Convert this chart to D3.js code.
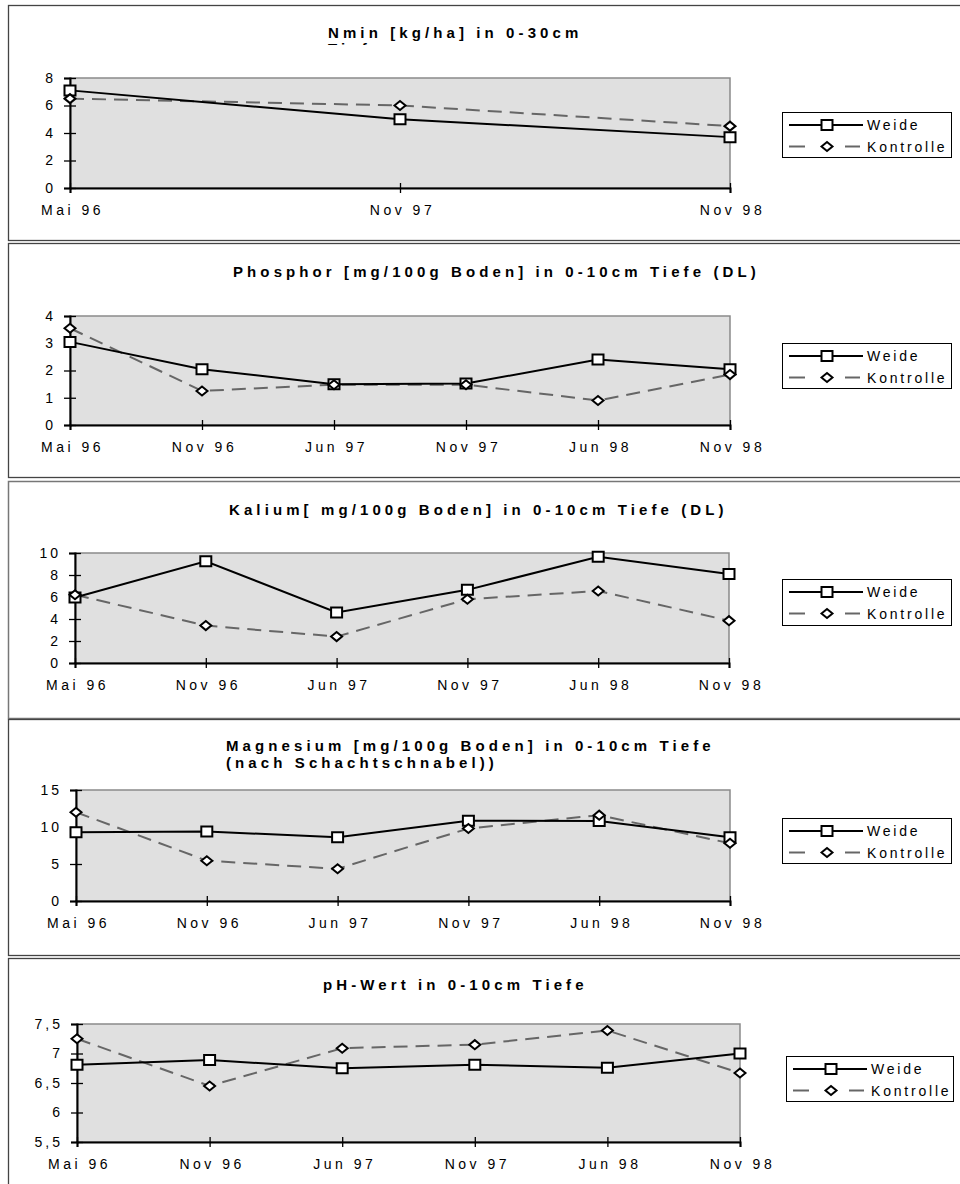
<!DOCTYPE html>
<html>
<head>
<meta charset="utf-8">
<script src="https://cdn.jsdelivr.net/npm/d3@7"></script>
<style>
  html, body { margin: 0; padding: 0; background: #fff; }
  svg { display: block; font-family: "Liberation Sans", Arial, sans-serif; }
</style>
</head>
<body>
<svg id="chart" width="960" height="1184"></svg>
<script>
// ---------- DATA ----------
const cats3 = ["Mai 96", "Nov 97", "Nov 98"];
const cats6 = ["Mai 96", "Nov 96", "Jun 97", "Nov 97", "Jun 98", "Nov 98"];
const seriesNames = ["Weide", "Kontrolle"];

const nminWeide = [7.1, 5.0, 3.7];
const nminKontrolle = [6.5, 6.0, 4.5];

const phosphorWeide = [3.05, 2.05, 1.5, 1.52, 2.4, 2.05];
const phosphorKontrolle = [3.55, 1.25, 1.48, 1.48, 0.9, 1.85];

const kaliumWeide = [5.95, 9.25, 4.6, 6.65, 9.65, 8.1];
const kaliumKontrolle = [6.2, 3.4, 2.4, 5.8, 6.55, 3.85];

const magnesiumWeide = [9.3, 9.4, 8.6, 10.85, 10.8, 8.6];
const magnesiumKontrolle = [12.0, 5.45, 4.35, 9.8, 11.6, 7.8];

const phWeide = [6.81, 6.89, 6.75, 6.81, 6.76, 7.0];
const phKontrolle = [7.25, 6.45, 7.09, 7.15, 7.39, 6.67];

const nminTicks = [0, 2, 4, 6, 8];
const phosphorTicks = [0, 1, 2, 3, 4];
const kaliumTicks = [0, 2, 4, 6, 8, 10];
const magnesiumTicks = [0, 5, 10, 15];
const phTicks = [5.5, 6, 6.5, 7, 7.5];

const titleNmin = ["Nmin [kg/ha] in 0-30cm", "Tiefe"];
const titlePhosphor = ["Phosphor [mg/100g Boden] in 0-10cm Tiefe (DL)"];
const titleKalium = ["Kalium[ mg/100g Boden] in 0-10cm Tiefe (DL)"];
const titleMagnesium = ["Magnesium [mg/100g Boden] in 0-10cm Tiefe", "(nach Schachtschnabel))"];
const titlePh = ["pH-Wert in 0-10cm Tiefe"];

// ---------- LAYOUT ----------
const commaFmt = d3.formatLocale({decimal: ",", thousands: ".", grouping: [3], currency: ["", ""]});
const fmtPh = v => commaFmt.format("")(v);

const panels = [
  {frame: [8, 5, 962, 235], plot: [70, 78, 730, 188], title: titleNmin, titleX: 328, titleY: 37.5, lineGap: 16, clipSecond: 45,
   cats: cats3, w: nminWeide, k: nminKontrolle, ticks: nminTicks, fmt: d => d, legend: [782, 112, 169, 45]},
  {frame: [8, 243, 962, 234], plot: [70, 316, 730, 425], title: titlePhosphor, titleX: 233, titleY: 277,
   cats: cats6, w: phosphorWeide, k: phosphorKontrolle, ticks: phosphorTicks, fmt: d => d, legend: [782, 343, 169, 45]},
  {frame: [8, 481, 962, 237], plot: [75, 553, 729, 663], title: titleKalium, titleX: 229, titleY: 515,
   cats: cats6, w: kaliumWeide, k: kaliumKontrolle, ticks: kaliumTicks, fmt: d => d, legend: [782, 579, 169, 46]},
  {frame: [8, 719, 962, 236], plot: [76, 790, 730, 901], title: titleMagnesium, titleX: 226, titleY: 750.5, lineGap: 17,
   cats: cats6, w: magnesiumWeide, k: magnesiumKontrolle, ticks: magnesiumTicks, fmt: d => d, legend: [782, 818, 169, 45]},
  {frame: [8, 958, 962, 240], plot: [77, 1024, 740, 1142], title: titlePh, titleX: 323, titleY: 990,
   cats: cats6, w: phWeide, k: phKontrolle, ticks: phTicks, fmt: fmtPh, legend: [786, 1056, 167, 45]}
];

const svg = d3.select("#chart");
svg.append("rect").attr("width", 960).attr("height", 1184).attr("fill", "#fff");
const defs = svg.append("defs");

const squarePath = "M-5.5,-5 L5.5,-5 L5.5,5 L-5.5,5 Z";
const diamondPath = "M-5.5,0 L0,-4.5 L5.5,0 L0,4.5 Z";

function drawMarker(g, x, y, type) {
  g.append("path")
    .attr("d", type === "square" ? squarePath : diamondPath)
    .attr("transform", `translate(${x},${y})`)
    .attr("fill", "#fff")
    .attr("stroke", "#000")
    .attr("stroke-width", 2);
}

panels.forEach((p, i) => {
  const g = svg.append("g");
  // frame
  g.append("rect")
    .attr("x", p.frame[0] + 0.5).attr("y", p.frame[1] + 0.5)
    .attr("width", p.frame[2]).attr("height", p.frame[3])
    .attr("fill", "#fff").attr("stroke", i === 2 ? "#777" : "#444")
    .attr("stroke-width", i === 2 ? 1.5 : 1.3);

  const [x0, y0, x1, y1] = p.plot;
  const x = d3.scalePoint().domain(p.cats).range([x0, x1]);
  const yDom = d3.extent(p.ticks);
  const y = d3.scaleLinear().domain(yDom).range([y1, y0]);

  // plot background
  g.append("rect").attr("x", x0).attr("y", y0).attr("width", x1 - x0).attr("height", y1 - y0)
    .attr("fill", "#e0e0e0").attr("stroke", "#8a8a8a").attr("stroke-width", 1.5);

  // title (one text element, one tspan per line)
  const tx = g.append("text")
    .attr("font-size", 15).attr("font-weight", "bold")
    .attr("letter-spacing", 4.1)
    .attr("fill", "#000");
  p.title.forEach((t, li) => {
    tx.append("tspan")
      .attr("x", p.titleX)
      .attr("y", p.titleY + li * (p.lineGap || 17))
      .text(t);
  });
  if (p.clipSecond) {
    const clipId = "clipT" + i;
    defs.append("clipPath").attr("id", clipId).append("rect")
      .attr("x", 0).attr("y", 0).attr("width", 960).attr("height", p.clipSecond);
    tx.attr("clip-path", `url(#${clipId})`);
  }

  // y axis
  const yAxis = g.append("g").attr("transform", `translate(${x0},0)`)
    .call(d3.axisLeft(y).tickValues(p.ticks).tickFormat(p.fmt).tickSize(6).tickPadding(8));
  yAxis.select(".domain").attr("stroke", "#000").attr("stroke-width", 2);
  yAxis.selectAll(".tick line").attr("x1", 6).attr("stroke", "#000").attr("stroke-width", 1.3);
  yAxis.selectAll(".tick text").attr("font-size", 14).attr("letter-spacing", 3)
    .attr("font-family", "Liberation Sans, Arial, sans-serif").attr("fill", "#000");

  // x axis
  const xAxis = g.append("g").attr("transform", `translate(0,${y1})`)
    .call(d3.axisBottom(x).tickSize(5).tickPadding(12));
  xAxis.select(".domain").attr("stroke", "#000").attr("stroke-width", 2);
  xAxis.selectAll(".tick line").attr("y1", -5).attr("stroke", "#000").attr("stroke-width", 1.3);
  xAxis.selectAll(".tick text").attr("font-size", 14).attr("letter-spacing", 3.5)
    .attr("font-family", "Liberation Sans, Arial, sans-serif").attr("fill", "#000")
    .attr("dx", 2);

  // lines
  const line = d3.line().x((d, j) => x(p.cats[j])).y(d => y(d));
  g.append("path").datum(p.k).attr("d", line).attr("fill", "none")
    .attr("stroke", "#666").attr("stroke-width", 2).attr("stroke-dasharray", "14,8");
  g.append("path").datum(p.w).attr("d", line).attr("fill", "none")
    .attr("stroke", "#000").attr("stroke-width", 2);

  p.w.forEach((v, j) => drawMarker(g, x(p.cats[j]), y(v), "square"));
  p.k.forEach((v, j) => drawMarker(g, x(p.cats[j]), y(v), "diamond"));

  // legend
  const [lx, ly, lw, lh] = p.legend;
  const lg = g.append("g");
  lg.append("rect").attr("x", lx + 0.5).attr("y", ly + 0.5).attr("width", lw).attr("height", lh)
    .attr("fill", "#fff").attr("stroke", "#000").attr("stroke-width", 1);
  const rowY = [ly + 13, ly + 34.5];
  seriesNames.forEach((name, r) => {
    const yy = rowY[r];
    if (r === 0) {
      lg.append("line").attr("x1", lx + 7).attr("x2", lx + 81).attr("y1", yy).attr("y2", yy)
        .attr("stroke", "#000").attr("stroke-width", 2);
      drawMarker(lg, lx + 45, yy, "square");
    } else {
      lg.append("line").attr("x1", lx + 7).attr("x2", lx + 23).attr("y1", yy).attr("y2", yy)
        .attr("stroke", "#666").attr("stroke-width", 2);
      lg.append("line").attr("x1", lx + 63).attr("x2", lx + 78).attr("y1", yy).attr("y2", yy)
        .attr("stroke", "#666").attr("stroke-width", 2);
      drawMarker(lg, lx + 45, yy, "diamond");
    }
    lg.append("text").attr("x", lx + 85).attr("y", yy + 5)
      .attr("font-size", 14).attr("letter-spacing", 2.8).attr("fill", "#000").text(name);
  });
});
</script>
</body>
</html>
